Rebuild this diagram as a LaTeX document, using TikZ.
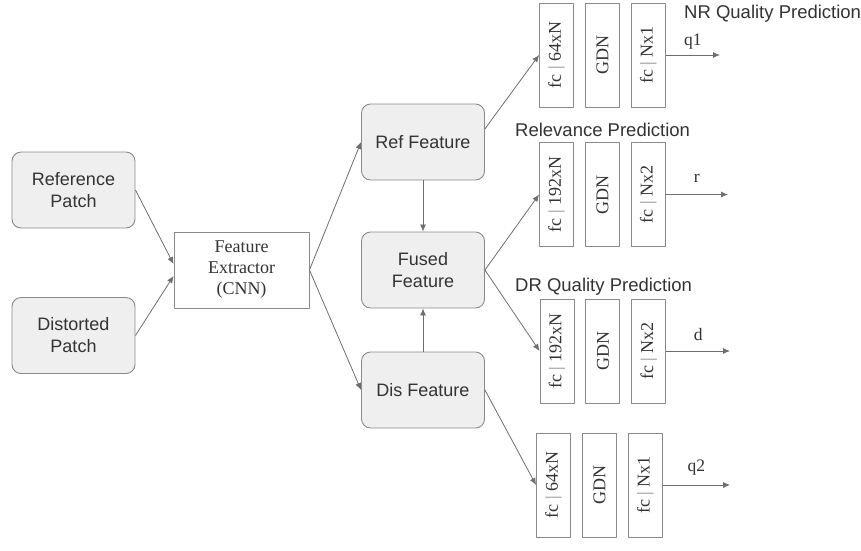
\documentclass[tikz,border=0pt]{standalone}
\usepackage{fontspec}
\setmainfont{Liberation Serif}
\setsansfont{Liberation Sans}
\usetikzlibrary{arrows.meta,positioning}

\definecolor{boxgray}{HTML}{EFEFEF}
\definecolor{linegray}{HTML}{8A8A8A}
\definecolor{arrgray}{HTML}{6E6E6E}
\definecolor{txtgray}{HTML}{333333}

\begin{document}
\begin{tikzpicture}[x=1pt,y=-1pt,>={Latex[length=7pt,width=6pt]},line join=round,
    feat/.style={draw=linegray,fill=boxgray,rounded corners=9pt,line width=0.9pt,
      minimum width=123pt,minimum height=76pt,inner sep=0pt,align=center,
      text=txtgray,font=\sffamily\fontsize{18}{22}\selectfont},
    extr/.style={draw=linegray,line width=0.9pt,minimum width=135pt,minimum height=76pt,
      inner sep=0pt,align=center,text=txtgray,font=\fontsize{18}{21}\selectfont},
    fcbox/.style={draw=linegray,line width=0.9pt,minimum width=34pt,minimum height=104pt,
      inner sep=0pt,text=txtgray},
    vtxt/.style={rotate=90,text=txtgray,font=\fontsize{18}{20}\selectfont},
    head/.style={anchor=west,inner sep=0pt,text=txtgray,font=\sffamily\fontsize{18.5}{21}\selectfont},
    lbl/.style={midway,above=5pt,inner sep=0pt,text=txtgray,font=\fontsize{17.5}{20}\selectfont},
    arr/.style={->,draw=arrgray,line width=0.8pt}]
  \useasboundingbox (0,0) rectangle (861,550);

  % inputs and features
  \node[feat] (refp) at (73.5,190) {Reference\\Patch};
  \node[feat] (disp) at (73.5,335.5) {Distorted\\Patch};
  \node[extr] (fe) at (241.5,270) {Feature\\Extractor\\(CNN)};
  \node[feat] (reff) at (423,142) {Ref Feature};
  \node[feat] (fusf) at (423,270) {Fused\\Feature};
  \node[feat] (disf) at (423,390) {Dis Feature};

  % NR head
  \node[fcbox] (nr1) at (556.5,55) {};
  \node[fcbox,right=11pt of nr1] (nr2) {};
  \node[fcbox,right=11pt of nr2] (nr3) {};
  \node[vtxt] at (nr1) {fc {\color{linegray}|} 64xN};
  \node[vtxt] at (nr2) {GDN};
  \node[vtxt] at (nr3) {fc {\color{linegray}|} Nx1};
  \coordinate (q1) at (720,55);
  \node[head] (nrhead) at (684,14) {NR Quality Prediction};

  % relevance head
  \node[fcbox] (re1) at (556.5,194.5) {};
  \node[fcbox,right=11pt of re1] (re2) {};
  \node[fcbox,right=11pt of re2] (re3) {};
  \node[vtxt] at (re1) {fc {\color{linegray}|} 192xN};
  \node[vtxt] at (re2) {GDN};
  \node[vtxt] at (re3) {fc {\color{linegray}|} Nx2};
  \coordinate (r) at (728,194.5);
  \node[head] (rehead) at (515,130) {Relevance Prediction};

  % DR head
  \node[fcbox] (dr1) at (557,351) {};
  \node[fcbox,right=11pt of dr1] (dr2) {};
  \node[fcbox,right=11pt of dr2] (dr3) {};
  \node[vtxt] at (dr1) {fc {\color{linegray}|} 192xN};
  \node[vtxt] at (dr2) {GDN};
  \node[vtxt] at (dr3) {fc {\color{linegray}|} Nx2};
  \coordinate (d) at (730,351);
  \node[head] (drhead) at (515,287) {DR Quality Prediction};

  % second NR head
  \node[fcbox] (nq1) at (553.5,485) {};
  \node[fcbox,right=11pt of nq1] (nq2) {};
  \node[fcbox,right=11pt of nq2] (nq3) {};
  \node[vtxt] at (nq1) {fc {\color{linegray}|} 64xN};
  \node[vtxt] at (nq2) {GDN};
  \node[vtxt] at (nq3) {fc {\color{linegray}|} Nx1};
  \coordinate (q2) at (730,485);

  % connectors
  \draw[arr] (refp.east) -- (fe.175);
  \draw[arr] (disp.east) -- (fe.185);
  \draw[arr] (fe.east) -- (reff.west);
  \draw[arr] (fe.east) -- (disf.west);
  \draw[arr] (reff.south) -- (fusf.north);
  \draw[arr] (disf.north) -- (fusf.south);
  \draw[arr] (reff.12) -- (nr1.west);
  \draw[arr] (fusf.east) -- (re1.west);
  \draw[arr] (fusf.east) -- (dr1.west);
  \draw[arr] (disf.east) -- (nq1.west);
  \draw[arr] (nr3.east) -- (q1) node[lbl] {q1};
  \draw[arr] (re3.east) -- (r) node[lbl,above=12pt] {r};
  \draw[arr] (dr3.east) -- (d) node[lbl,above=10pt] {d};
  \draw[arr] (nq3.east) -- (q2) node[lbl,above=9pt] {q2};
\end{tikzpicture}
\end{document}
